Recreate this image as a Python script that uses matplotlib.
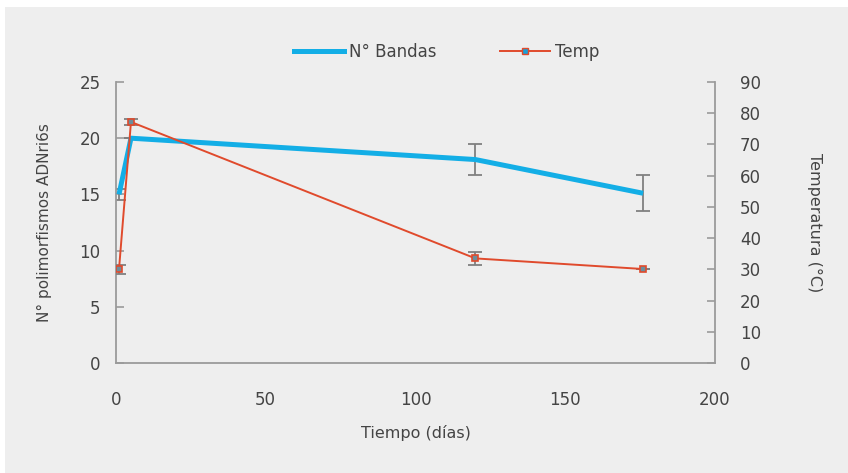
import matplotlib.pyplot as plt
from matplotlib.patches import Rectangle
from matplotlib.lines import Line2D

# datos
dias = [1, 5, 120, 176]
bandas = [15.0, 20.0, 18.1, 15.1]
bandas_err = [0.5, 0.0, 1.35, 1.6]
temp = [30.0, 77.2, 33.5, 30.1]
temp_err = [1.5, 1.0, 2.0, 0.0]

azul = '#13aee6'
rojo = '#e04a2c'
gris = '#9a9a9a'
texto = '#444444'

plt.rcParams['font.family'] = ['DejaVu Sans']

fig = plt.figure(figsize=(8.48, 4.73), dpi=100)
fig.patch.set_facecolor('white')
# fondo gris claro con borde blanco arriba y a la izquierda
fig.patches.append(Rectangle((5 / 848, 0), 1, 1 - 7 / 473, transform=fig.transFigure,
                             facecolor='#eeeeee', edgecolor='none', zorder=-10))

ax = fig.add_axes([116 / 848, 1 - 363 / 473, (715 - 116) / 848, (363 - 82) / 473])
ax.set_facecolor('none')
ax2 = ax.twinx()

# serie N° Bandas
ax.plot(dias, bandas, color=azul, lw=3.6, solid_capstyle='butt', zorder=3)
ax.errorbar(dias, bandas, yerr=bandas_err, fmt='none', ecolor='#808080',
            elinewidth=1.3, capsize=5, capthick=1.3, zorder=2)

# serie Temp
ax2.errorbar(dias, temp, yerr=temp_err, fmt='none', ecolor='#808080',
             elinewidth=1.3, capsize=5, capthick=1.3, zorder=2)
ax2.plot(dias, temp, color=rojo, lw=1.4, marker='s', ms=5,
         markerfacecolor='#6d8d9c', markeredgecolor=rojo, markeredgewidth=1.2, zorder=3)

ax.set_xlim(0, 200)
ax.set_ylim(0, 25)
ax2.set_ylim(0, 90)
ax.set_xticks([0, 50, 100, 150, 200])
ax.set_yticks([0, 5, 10, 15, 20, 25])
ax2.set_yticks(range(0, 91, 10))

for a in (ax, ax2):
    for s in a.spines.values():
        s.set_visible(False)
    a.tick_params(labelsize=12, labelcolor=texto, color=gris, width=1.2)

ax.spines['left'].set_visible(True)
ax.spines['bottom'].set_visible(True)
ax.spines['left'].set_color(gris)
ax.spines['bottom'].set_color(gris)
ax.spines['left'].set_linewidth(1.3)
ax.spines['bottom'].set_linewidth(1.3)
ax2.spines['right'].set_visible(True)
ax2.spines['right'].set_color(gris)
ax2.spines['right'].set_linewidth(1.3)

ax.tick_params(axis='x', length=0, pad=20)
ax.tick_params(axis='y', direction='in', length=6, pad=11)
ax2.tick_params(axis='y', direction='in', length=6, pad=18)

ax.set_xlabel('Tiempo (días)', fontsize=11.5, color=texto, labelpad=12)
ax.set_ylabel('N° polimorfismos ADNri6s', fontsize=11, color=texto, labelpad=20)
ax2.set_ylabel('Temperatura (°C)', fontsize=11.5, color=texto, rotation=270, labelpad=44)

handles = [
    Line2D([], [], color=azul, lw=3.6),
    Line2D([], [], color=rojo, lw=1.4, marker='s', ms=5,
           markerfacecolor='#1aa0d8', markeredgecolor=rojo),
]
fig.legend(handles, ['N° Bandas', 'Temp'], loc='center', bbox_to_anchor=(447 / 848, 1 - 52 / 473),
           ncol=2, frameon=False, fontsize=12, labelcolor=texto, handlelength=3.0,
           handletextpad=0.3, columnspacing=3.8)

fig.savefig('out.png', dpi=100, facecolor=fig.get_facecolor())
